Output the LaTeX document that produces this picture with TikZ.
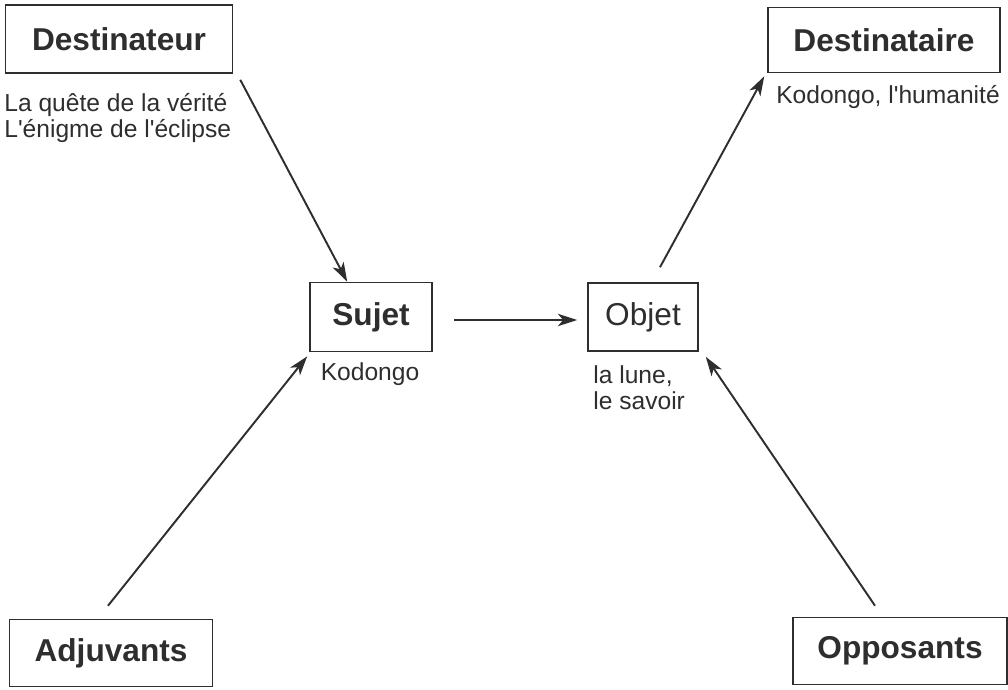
\documentclass[tikz,border=0pt]{standalone}
\usepackage{fontspec}
\setmainfont{Liberation Sans}
\usetikzlibrary{arrows.meta}
\definecolor{ink}{HTML}{2E2E2E}
\tikzset{
    actant/.style={draw=ink, line width=0.9pt, text=ink, inner sep=0pt,
        font=\fontsize{18pt}{20pt}\selectfont\bfseries},
    gloss/.style={text=ink, inner sep=0pt, align=left,
        font=\fontsize{14pt}{14.6pt}\selectfont},
    fleche/.style={draw=ink, line width=1.1pt, -{Stealth[length=11pt, width=7pt, inset=3pt]}}
}
\begin{document}
\begin{tikzpicture}[x=0.02cm, y=-0.02cm]
            \useasboundingbox (0,0) rectangle (1008,690);
            % les six actants
            \node[actant, minimum width=4.54cm, minimum height=1.36cm] (dtr) at (119,39) {Destinateur};
            \node[actant, minimum width=4.64cm, minimum height=1.30cm] (dta) at (884,40) {Destinataire};
            \node[actant, minimum width=2.44cm, minimum height=1.38cm] (sujet) at (371,317) {Sujet};
            \node[actant, minimum width=2.20cm, minimum height=1.36cm, font=\fontsize{18pt}{20pt}\selectfont] (objet) at (643,317) {Objet};
            \node[actant, minimum width=4.06cm, minimum height=1.34cm] (adj) at (111,653) {Adjuvants};
            \node[actant, minimum width=4.28cm, minimum height=1.34cm] (opp) at (900,651) {Opposants};
            % ce qui les remplit
            \node[gloss, anchor=west] (quete) at (4,118) {La quête de la vérité\\L\textquotesingle énigme de l\textquotesingle éclipse};
            \node[gloss] (kodongo) at (370,374) {Kodongo};
            \node[gloss, anchor=west] (lune) at (593,388) {la lune,\\le savoir};
            \node[gloss] (humanite) at (888,97) {Kodongo, l\textquotesingle humanité};
            % les fleches
            \draw[fleche] ([xshift=0.14cm, yshift=-0.12cm]dtr.south east) -- ([xshift=0.76cm]sujet.north west);
            \draw[fleche] ([xshift=0.42cm, yshift=-0.06cm]sujet.east) -- ([xshift=-0.2cm, yshift=-0.06cm]objet.west);
            \draw[fleche] ([xshift=0.34cm, yshift=0.3cm]objet.north) -- ([xshift=-0.06cm, yshift=-0.06cm]dta.south west);
            \draw[fleche] ([xshift=-0.06cm, yshift=0.26cm]adj.north) -- ([xshift=-0.04cm, yshift=-0.08cm]sujet.south west);
            \draw[fleche] ([xshift=-0.5cm, yshift=0.22cm]opp.north) -- ([xshift=0.14cm, yshift=-0.1cm]objet.south east);
        \end{tikzpicture}
\end{document}
